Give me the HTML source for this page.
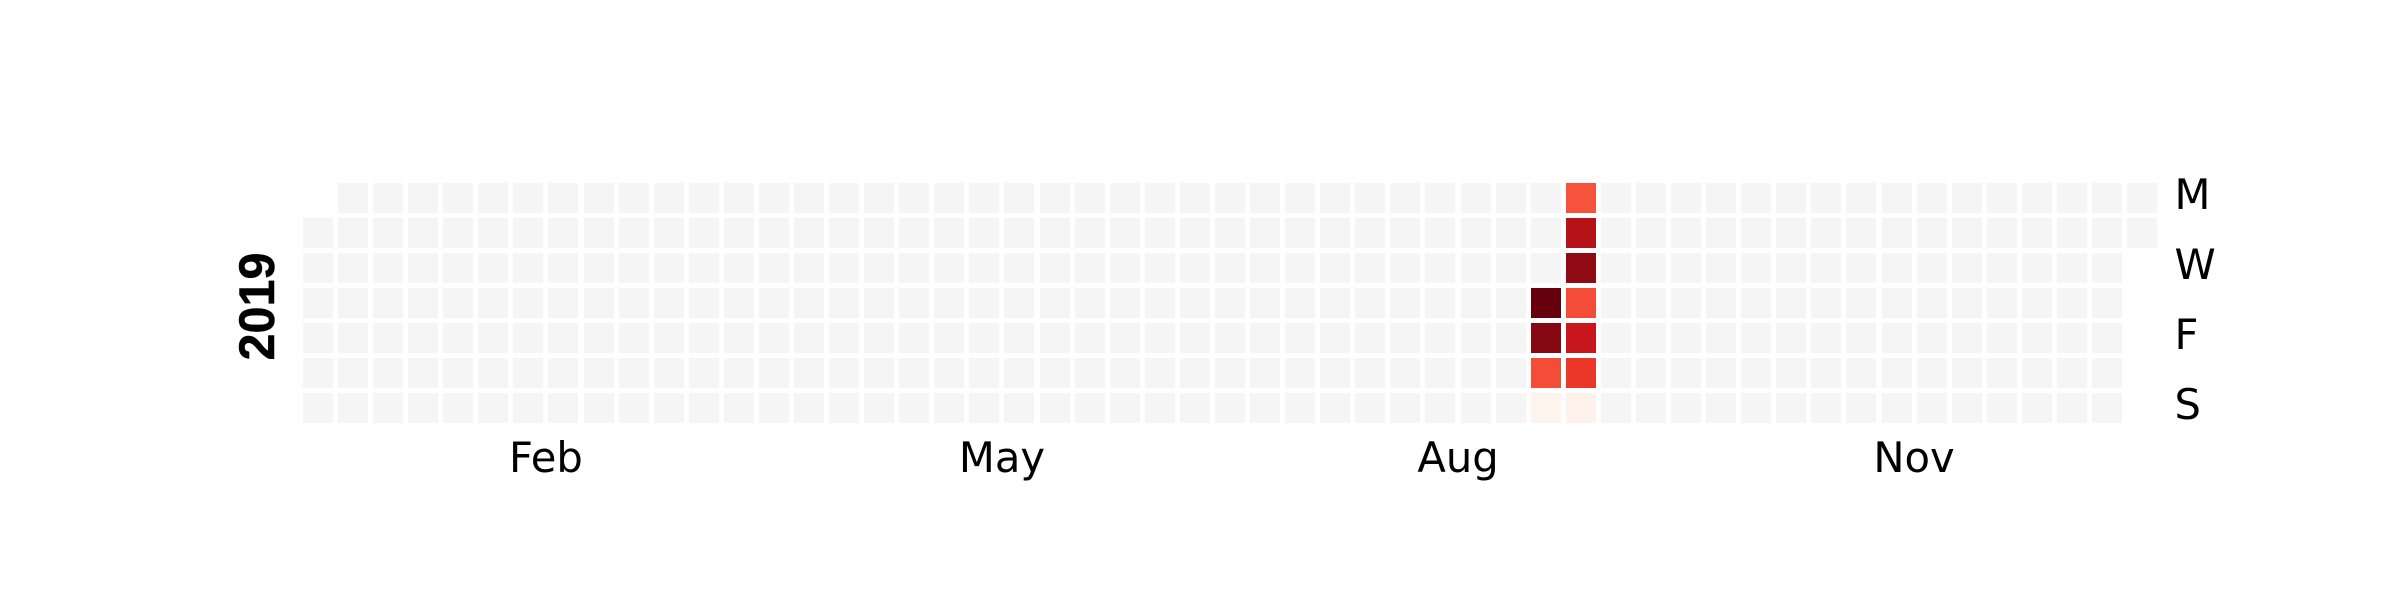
<!DOCTYPE html>
<html>
<head>
<meta charset="utf-8">
<title>2019 calendar heatmap</title>
<style>
  html, body { margin: 0; padding: 0; background: #ffffff; }
  svg { display: block; }
  .tick { font-family: "DejaVu Sans", sans-serif; font-size: 41.67px; fill: #000000; }
  .year { font-family: "Liberation Sans", sans-serif; font-size: 50px; font-weight: bold; fill: #000000; stroke: #000000; stroke-width: 0.5px; }
</style>
</head>
<body>
<svg id="chart" width="2400" height="600" viewBox="0 0 2400 600" xmlns="http://www.w3.org/2000/svg">
  <rect x="0" y="0" width="2400" height="600" fill="#ffffff"/>
  <g id="cells"></g>
  <g id="month-labels"></g>
  <g id="day-labels"></g>
  <text id="year-label" class="year" text-anchor="middle" textLength="108" lengthAdjust="spacingAndGlyphs" transform="translate(274 306.5) rotate(-90)">2019</text>
</svg>
<script>
// Values per weekday, one entry per week of 2019. null = day outside the year, 0 = no activity.
const mon = [null,0,0,0,0,0,0,0,0,0,0,0,0,0,0,0,0,0,0,0,0,0,0,0,0,0,0,0,0,0,0,0,0,0,0,0,56,0,0,0,0,0,0,0,0,0,0,0,0,0,0,0,0];
const tue = [0,0,0,0,0,0,0,0,0,0,0,0,0,0,0,0,0,0,0,0,0,0,0,0,0,0,0,0,0,0,0,0,0,0,0,0,82,0,0,0,0,0,0,0,0,0,0,0,0,0,0,0,0];
const wed = [0,0,0,0,0,0,0,0,0,0,0,0,0,0,0,0,0,0,0,0,0,0,0,0,0,0,0,0,0,0,0,0,0,0,0,0,92,0,0,0,0,0,0,0,0,0,0,0,0,0,0,0,null];
const thu = [0,0,0,0,0,0,0,0,0,0,0,0,0,0,0,0,0,0,0,0,0,0,0,0,0,0,0,0,0,0,0,0,0,0,0,100,58,0,0,0,0,0,0,0,0,0,0,0,0,0,0,0,null];
const fri = [0,0,0,0,0,0,0,0,0,0,0,0,0,0,0,0,0,0,0,0,0,0,0,0,0,0,0,0,0,0,0,0,0,0,0,94,76,0,0,0,0,0,0,0,0,0,0,0,0,0,0,0,null];
const sat = [0,0,0,0,0,0,0,0,0,0,0,0,0,0,0,0,0,0,0,0,0,0,0,0,0,0,0,0,0,0,0,0,0,0,0,58,64,0,0,0,0,0,0,0,0,0,0,0,0,0,0,0,null];
const sun = [0,0,0,0,0,0,0,0,0,0,0,0,0,0,0,0,0,0,0,0,0,0,0,0,0,0,0,0,0,0,0,0,0,0,0,1,2,0,0,0,0,0,0,0,0,0,0,0,0,0,0,0,null];
const monthLabels = ["Feb", "May", "Aug", "Nov"];
const monthTickWeeks = [6.5, 19.5, 32.5, 45.5];
const dayLabels = ["M", "W", "F", "S"];
const dayLabelRows = [0, 2, 4, 6];

const SVG_NS = "http://www.w3.org/2000/svg";
const weekdayRows = [mon, tue, wed, thu, fri, sat, sun];
const CELL = 30;
const xScale = function (week) { return 302.9 + week * 35.08; };
const yScale = function (row) { return 183 + row * 35; };

const redsRamp = [[255,245,240],[254,224,210],[252,187,161],[252,146,114],[251,106,74],[239,59,44],[203,24,29],[165,15,21],[103,0,13]];
const maxValue = Math.max.apply(null, weekdayRows.map(function (r) {
  return Math.max.apply(null, r.map(function (v) { return v === null ? 0 : v; }));
}));
function colorFor(value) {
  if (value === 0) { return "#f5f5f5"; }
  const t = Math.min(1, value / maxValue) * (redsRamp.length - 1);
  const i = Math.min(redsRamp.length - 2, Math.floor(t));
  const f = t - i;
  const c = redsRamp[i].map(function (a, k) { return Math.round(a + (redsRamp[i + 1][k] - a) * f); });
  return "rgb(" + c.join(",") + ")";
}

const cellsGroup = document.getElementById("cells");
weekdayRows.forEach(function (values, row) {
  values.forEach(function (value, week) {
    if (value === null) { return; }
    const rect = document.createElementNS(SVG_NS, "rect");
    rect.setAttribute("x", Math.round(xScale(week)));
    rect.setAttribute("y", yScale(row));
    rect.setAttribute("width", CELL);
    rect.setAttribute("height", CELL);
    rect.setAttribute("fill", colorFor(value));
    
    
    cellsGroup.appendChild(rect);
  });
});

const monthGroup = document.getElementById("month-labels");
monthLabels.forEach(function (label, i) {
  const t = document.createElementNS(SVG_NS, "text");
  t.setAttribute("class", "tick");
  t.setAttribute("x", xScale(monthTickWeeks[i]) + CELL / 2);
  t.setAttribute("y", 472);
  t.setAttribute("text-anchor", "middle");
  
  
  t.textContent = label;
  monthGroup.appendChild(t);
});

const dayGroup = document.getElementById("day-labels");
dayLabels.forEach(function (label, i) {
  const t = document.createElementNS(SVG_NS, "text");
  t.setAttribute("class", "tick");
  t.setAttribute("x", 2174.5);
  t.setAttribute("y", yScale(dayLabelRows[i]) + CELL / 2 + 11);
  
  
  t.textContent = label;
  dayGroup.appendChild(t);
});
</script>
</body>
</html>
